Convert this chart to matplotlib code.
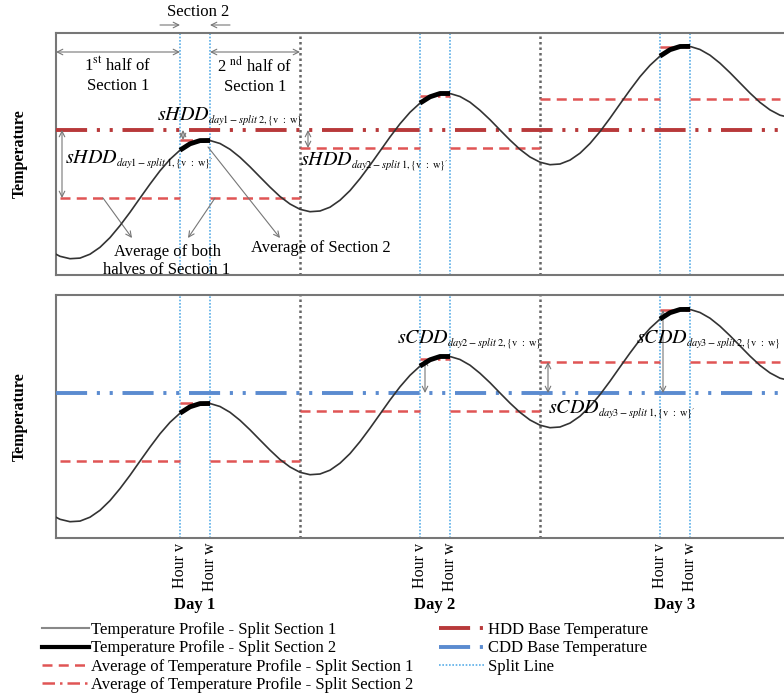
import matplotlib
matplotlib.use("Agg")
import matplotlib.pyplot as plt
from matplotlib.lines import Line2D

plt.rcParams['font.family'] = ['Liberation Serif', 'DejaVu Serif']
plt.rcParams['mathtext.fontset'] = 'stix'

# hourly temperature profile (arbitrary units)
hours = list(range(-1, 74))
temp = [2.39, 1.87, 1.63, 1.69, 2.08, 2.77, 3.74, 4.94, 6.27, 7.69, 9.09, 10.42,
        11.57, 12.48, 13.12, 13.44, 13.45, 13.15, 12.57, 11.77, 10.82, 9.80, 8.79,
        7.85, 7.10, 6.57, 6.33, 6.40, 6.78, 7.48, 8.44, 9.64, 10.98, 12.39, 13.80,
        15.12, 16.27, 17.19, 17.82, 18.15, 18.15, 17.85, 17.28, 16.47, 15.53, 14.50,
        13.49, 12.56, 11.80, 11.28, 11.03, 11.10, 11.49, 12.18, 13.15, 14.34, 15.68,
        17.10, 18.50, 19.83, 20.97, 21.89, 22.53, 22.85, 22.86, 22.55, 21.98, 21.18,
        20.23, 19.21, 18.19, 17.26, 16.51, 15.98, 15.74]

day_names = ["Day 1", "Day 2", "Day 3"]
day_start = [0, 24, 48]
day_end = [24, 48, 72]
hour_v = [12, 36, 60]
hour_w = [15, 39, 63]
avg_sec1 = [7.7, 12.7, 17.6]
avg_sec2 = [13.5, 17.9, 22.8]
base_temp = 14.5

c_curve = '#333333'
c_avg = '#e05555'
c_hdd = '#b8393a'
c_cdd = '#5b8bd0'
c_split = '#5aaee8'
c_grey = '#777777'
base_dash = (8, 2.5, 0.8, 2.5, 0.8, 2.5)

fig = plt.figure(figsize=(7.84, 6.97), dpi=100)
ax1 = fig.add_axes([56/784, 1-275/697, 730/784, 242/697])
ax2 = fig.add_axes([56/784, 1-538/697, 730/784, 243/697])


def draw_panel(ax, base_color):
    ax.plot(hours, temp, color=c_curve, lw=1.2, zorder=4)
    for i in range(3):
        sec = [(h, t) for h, t in zip(hours, temp) if hour_v[i] <= h <= hour_w[i]]
        ax.plot([s[0] for s in sec], [s[1] for s in sec], color='black', lw=3.5,
                solid_capstyle='butt', zorder=5)
        ax.hlines(avg_sec1[i], day_start[i], hour_v[i], color=c_avg, lw=1.8,
                  linestyles=(0, (4, 2.5)), zorder=3)
        ax.hlines(avg_sec1[i], hour_w[i], day_end[i], color=c_avg, lw=1.8,
                  linestyles=(0, (4, 2.5)), zorder=3)
        ax.hlines(avg_sec2[i], hour_v[i], hour_w[i], color=c_avg, lw=1.8,
                  linestyles=(0, (5, 2, 1, 2)), zorder=3)
        ax.axvline(hour_v[i], color=c_split, lw=1.2, ls=(0, (1, 1)), zorder=2)
        ax.axvline(hour_w[i], color=c_split, lw=1.2, ls=(0, (1, 1)), zorder=2)
    for d in day_start[1:]:
        ax.axvline(d, color='#666666', lw=1.8, ls=(0, (1, 1.2)), zorder=2)
    ax.axhline(base_temp, color=base_color, lw=2.8, ls=(0, base_dash), zorder=3)
    ax.set_xlim(-0.4, 72.6)
    ax.set_xticks([])
    ax.set_yticks([])
    for sp in ax.spines.values():
        sp.set_color('#777777')
        sp.set_linewidth(1.5)
    ax.set_ylabel("Temperature", fontsize=11.5, fontweight='bold', labelpad=20)


draw_panel(ax1, c_hdd)
draw_panel(ax2, c_cdd)
ax1.set_ylim(0, 24.2)
ax2.set_ylim(0, 24.3)


def arrow(ax, x0, y0, x1, y1, style='<->'):
    ax.annotate("", xy=(x1, y1), xytext=(x0, y0),
                arrowprops=dict(arrowstyle=style, color=c_grey, lw=0.8,
                                shrinkA=0, shrinkB=0), annotation_clip=False)


def degree_label(ax, x, y, name, sub):
    # big italic name with a small subscript
    main = ax.text(x, y, "$" + name + "$", fontsize=14.5, ha='left',
                   va='baseline', zorder=6)
    ax.annotate("$" + sub + "$", xy=(1, 0), xycoords=main, xytext=(-1.5, 3.5),
                textcoords='offset points', fontsize=7.5, ha='left',
                va='center', zorder=6, annotation_clip=False)


# top panel annotations
ax1.text(13.8, 26.3, "Section 2", fontsize=12, ha='center', va='center', clip_on=False)
arrow(ax1, 10.0, 25.0, hour_v[0], 25.0, '->')
arrow(ax1, 17.0, 25.0, hour_w[0], 25.0, '->')
arrow(ax1, -0.4, 22.3, hour_v[0], 22.3)
arrow(ax1, hour_w[0], 22.3, day_end[0], 22.3)
ax1.text(5.8, 19.95, "1$^{\\rm st}$ half of\nSection 1", fontsize=12, ha='center',
         va='center', linespacing=1.2)
ax1.text(19.5, 19.95, "2 $^{\\rm nd}$ half of\nSection 1", fontsize=12, ha='center',
         va='center', linespacing=1.2)

degree_label(ax1, 9.7, 15.5, "sHDD", r"day1-split\ \mathrm{2,\{v\ :\ w\}}")
arrow(ax1, 12.3, base_temp, 12.3, avg_sec2[0])
arrow(ax1, 0.2, base_temp, 0.2, avg_sec1[0])
degree_label(ax1, 0.5, 11.2, "sHDD", r"day1-split\ \mathrm{1,\{v\ :\ w\}'}")
arrow(ax1, 24.8, base_temp, 24.8, avg_sec1[1])
degree_label(ax1, 24.0, 11.0, "sHDD", r"day2-split\ \mathrm{1,\{v\ :\ w\}'}")

arrow(ax1, 4.3, avg_sec1[0], 7.2, 3.7, '->')
arrow(ax1, 15.5, avg_sec1[0], 12.8, 3.7, '->')
arrow(ax1, 14.8, 12.8, 22.0, 3.7, '->')
ax1.text(10.7, 1.4, "Average of both\nhalves of Section 1", fontsize=12, ha='center',
         va='center', linespacing=1.2, clip_on=False, zorder=6)
ax1.text(26.1, 2.7, "Average of Section 2", fontsize=12, ha='center', va='center',
         zorder=6)

# bottom panel annotations
degree_label(ax2, 33.7, 19.5, "sCDD", r"day2-split\ \mathrm{2,\{v\ :\ w\}}")
arrow(ax2, 36.5, avg_sec2[1], 36.5, base_temp)
arrow(ax2, 48.8, avg_sec1[2], 48.8, base_temp)
degree_label(ax2, 48.8, 12.5, "sCDD", r"day3-split\ \mathrm{1,\{v\ :\ w\}'}")
arrow(ax2, 60.3, avg_sec2[2], 60.3, base_temp)
degree_label(ax2, 57.6, 19.5, "sCDD", r"day3-split\ \mathrm{2,\{v\ :\ w\}}")

# hour / day labels under bottom panel
trans = ax2.get_xaxis_transform()
for i in range(3):
    ax2.text(hour_v[i], -0.02, "Hour v", transform=trans, rotation=90, ha='center',
             va='top', fontsize=11.5)
    ax2.text(hour_w[i], -0.02, "Hour w", transform=trans, rotation=90, ha='center',
             va='top', fontsize=11.5)
    ax2.text((hour_v[i] + hour_w[i]) / 2, -0.276, day_names[i], transform=trans,
             ha='center', va='center', fontsize=12, fontweight='bold')

handles = [
    Line2D([], [], color='#888888', lw=1.5),
    Line2D([], [], color='black', lw=3),
    Line2D([], [], color=c_avg, lw=1.8, ls=(0, (4, 2.5))),
    Line2D([], [], color=c_avg, lw=1.8, ls=(0, (5, 2, 1, 2))),
    Line2D([], [], color=c_hdd, lw=2.8, ls=(0, base_dash)),
    Line2D([], [], color=c_cdd, lw=2.8, ls=(0, base_dash)),
    Line2D([], [], color=c_split, lw=1.2, ls=(0, (1, 1))),
]
labels = [
    "Temperature Profile - Split Section 1",
    "Temperature Profile - Split Section 2",
    "Average of Temperature Profile - Split Section 1",
    "Average of Temperature Profile - Split Section 2",
    "HDD Base Temperature",
    "CDD Base Temperature",
    "Split Line",
]
fig.legend(handles, labels, ncol=2, loc='upper left', bbox_to_anchor=(42/784, 1-622/697),
           frameon=False, fontsize=12, handlelength=2.8, handletextpad=0.15,
           labelspacing=0.14, columnspacing=1.5, borderpad=0, borderaxespad=0)

fig.savefig("out.png", dpi=100)
